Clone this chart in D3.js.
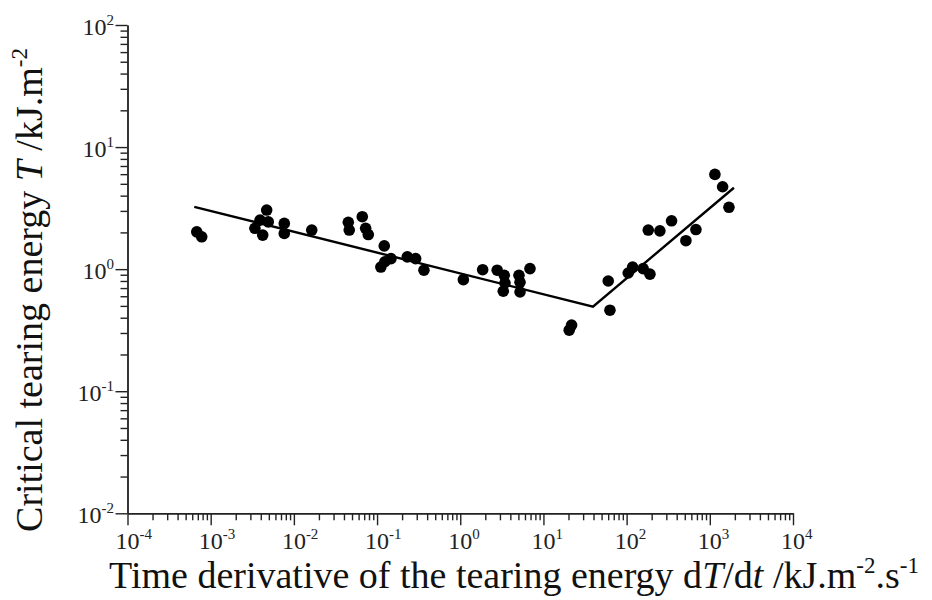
<!DOCTYPE html>
<html>
<head>
<meta charset="utf-8">
<script src="https://cdn.jsdelivr.net/npm/d3@7"></script>
<style>
  html, body { margin: 0; padding: 0; background: #fff; }
  svg { display: block; font-family: "Liberation Serif", "Times New Roman", serif; }
</style>
</head>
<body>
<svg id="chart" width="932" height="600"></svg>
<script>
// Data
const rateX = [6.8e-4, 7.8e-4, 4.71e-3, 3.92e-3, 3.40e-3, 4.92e-3, 4.22e-3, 7.67e-3, 7.67e-3, 0.0164,
  0.0451, 0.0463, 0.0664, 0.0729, 0.0784, 0.122, 0.147, 0.124, 0.111, 0.231, 0.291, 0.366,
  1.09, 1.86, 2.78, 3.38, 3.45, 3.29, 5.08, 5.23, 5.23, 6.89,
  21.8, 20.4, 60.1, 63.0, 104.5, 118, 158, 190.6, 182, 251, 347, 516, 681, 1151, 1425, 1698];
const energyY = [2.02, 1.84, 3.05, 2.52, 2.16, 2.44, 1.90, 2.37, 1.96, 2.09,
  2.42, 2.09, 2.69, 2.16, 1.92, 1.55, 1.22, 1.15, 1.04, 1.26, 1.22, 0.98,
  0.82, 0.99, 0.98, 0.89, 0.77, 0.66, 0.89, 0.78, 0.65, 1.01,
  0.348, 0.316, 0.80, 0.461, 0.93, 1.04, 1.01, 0.91, 2.09, 2.06, 2.49, 1.71, 2.11, 5.97, 4.73, 3.21];
const fitX = [6.35e-4, 39.4, 1950];
const fitY = [3.24, 0.493, 4.64];
const xDomain = [1e-4, 1e4];
const yDomain = [1e-2, 1e2];
const xMajorExp = [-4, -3, -2, -1, 0, 1, 2, 3, 4];
const yMajorExp = [-2, -1, 0, 1, 2];

const svg = d3.select("#chart");
const x = d3.scaleLog().domain(xDomain).range([127.5, 793]);
const y = d3.scaleLog().domain(yDomain).range([513.3, 25]);

const allX = x.ticks();
const allY = y.ticks();
const isMajor = v => Math.abs(Math.log10(v) - Math.round(Math.log10(v))) < 1e-9;

function styleAxis(g) {
  g.selectAll("path").attr("stroke", "#222").attr("stroke-width", 1.4);
  g.selectAll("line").attr("stroke", "#222").attr("stroke-width", 1.4);
  g.selectAll("text").remove();
}

// X axis
svg.append("g").attr("transform", "translate(0,513.3)")
  .call(d3.axisBottom(x).tickValues(allX.filter(v => !isMajor(v))).tickSize(7).tickSizeOuter(0).tickFormat(""))
  .call(styleAxis);
svg.append("g").attr("transform", "translate(0,513.3)")
  .call(d3.axisBottom(x).tickValues(allX.filter(isMajor)).tickSize(12).tickSizeOuter(0).tickFormat(""))
  .call(styleAxis);
// Y axis
svg.append("g").attr("transform", "translate(127.5,0)")
  .call(d3.axisLeft(y).tickValues(allY.filter(v => !isMajor(v))).tickSize(7).tickSizeOuter(0).tickFormat(""))
  .call(styleAxis);
svg.append("g").attr("transform", "translate(127.5,0)")
  .call(d3.axisLeft(y).tickValues(allY.filter(isMajor)).tickSize(12).tickSizeOuter(0).tickFormat(""))
  .call(styleAxis);

// Tick labels ("10" with superscript exponent, one text element each)
const tickFont = 24, supFont = 15;
xMajorExp.forEach(e => {
  const px = x(Math.pow(10, e));
  const t = svg.append("text").attr("x", px - 12).attr("y", 549).attr("text-anchor", "start")
    .attr("font-size", tickFont).attr("fill", "#222");
  t.append("tspan").text("10");
  t.append("tspan").attr("font-size", supFont).attr("dy", -10).text(e);
});
yMajorExp.forEach(e => {
  const py = y(Math.pow(10, e));
  const t = svg.append("text").attr("x", 114).attr("y", py + 10).attr("text-anchor", "end")
    .attr("font-size", tickFont).attr("fill", "#222");
  t.append("tspan").text("10");
  t.append("tspan").attr("font-size", supFont).attr("dy", -10).text(e);
});

// Fit line
const line = d3.line().x(d => x(d[0])).y(d => y(d[1]));
svg.append("path").datum(fitX.map((v, i) => [v, fitY[i]]))
  .attr("d", line).attr("fill", "none").attr("stroke", "#000").attr("stroke-width", 2.4);

// Points
svg.append("g").selectAll("circle").data(rateX.map((v, i) => [v, energyY[i]]))
  .join("circle").attr("cx", d => x(d[0])).attr("cy", d => y(d[1])).attr("r", 5.8).attr("fill", "#000");

// Axis titles
const xt = svg.append("text").attr("x", 514).attr("y", 588).attr("text-anchor", "middle")
  .attr("font-size", 38).attr("fill", "#111");
xt.append("tspan").text("Time derivative of the tearing energy d");
xt.append("tspan").attr("font-style", "italic").text("T");
xt.append("tspan").text("/d");
xt.append("tspan").attr("font-style", "italic").text("t");
xt.append("tspan").text(" /kJ.m");
xt.append("tspan").attr("font-size", 23).attr("dy", -15).text("-2");
xt.append("tspan").attr("dy", 15).text(".s");
xt.append("tspan").attr("font-size", 23).attr("dy", -15).text("-1");

const yt = svg.append("text").attr("transform", "translate(42,290) rotate(-90)").attr("text-anchor", "middle")
  .attr("font-size", 38).attr("fill", "#111");
yt.append("tspan").text("Critical tearing energy ");
yt.append("tspan").attr("font-style", "italic").text("T");
yt.append("tspan").text(" /kJ.m");
yt.append("tspan").attr("font-size", 23).attr("dy", -15).text("-2");
</script>
</body>
</html>
